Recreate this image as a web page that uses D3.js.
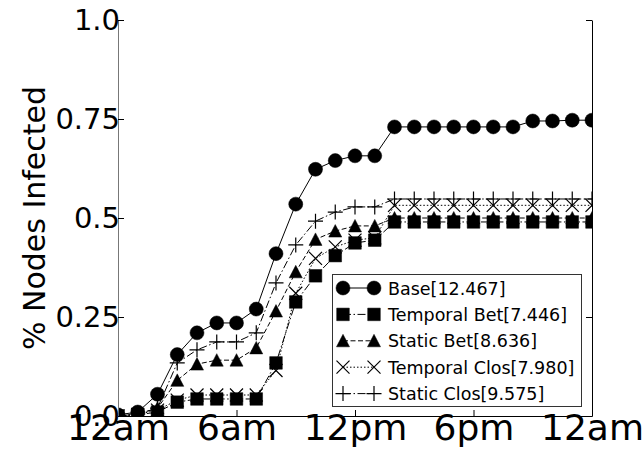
<!DOCTYPE html>
<html>
<head>
<meta charset="utf-8">
<script src="https://cdn.jsdelivr.net/npm/d3@7"></script>
<style>
  body { margin: 0; background: #fff; }
  svg { display: block; font-family: "DejaVu Sans", sans-serif; }
</style>
</head>
<body>
<svg id="chart" width="644" height="453"></svg>
<script>
// hours since midnight, one point per hour
const hours = [0, 1, 2, 3, 4, 5, 6, 7, 8, 9, 10, 11, 12, 13, 14, 15, 16, 17, 18, 19, 20, 21, 22, 23, 24];

const base = [0.003, 0.01, 0.055, 0.155, 0.21, 0.235, 0.235, 0.27, 0.41, 0.535, 0.623, 0.645, 0.657, 0.657,
  0.73, 0.73, 0.73, 0.73, 0.73, 0.73, 0.73, 0.745, 0.745, 0.747, 0.747];
const temporalBet = [0, 0.003, 0.01, 0.035, 0.043, 0.043, 0.043, 0.043, 0.134, 0.288, 0.354, 0.405, 0.437, 0.444,
  0.49, 0.49, 0.49, 0.49, 0.49, 0.49, 0.49, 0.49, 0.49, 0.49, 0.49];
const staticBet = [0, 0.005, 0.02, 0.09, 0.131, 0.141, 0.141, 0.172, 0.265, 0.364, 0.446, 0.467, 0.48, 0.48,
  0.5, 0.5, 0.5, 0.5, 0.5, 0.5, 0.5, 0.5, 0.5, 0.5, 0.5];
const temporalClos = [0, 0.004, 0.015, 0.04, 0.053, 0.053, 0.053, 0.053, 0.115, 0.31, 0.398, 0.427, 0.444, 0.45,
  0.532, 0.532, 0.532, 0.532, 0.532, 0.532, 0.532, 0.532, 0.532, 0.532, 0.532];
const staticClos = [0, 0.005, 0.02, 0.134, 0.167, 0.187, 0.187, 0.21, 0.336, 0.432, 0.492, 0.515, 0.528, 0.528,
  0.548, 0.548, 0.548, 0.548, 0.548, 0.548, 0.548, 0.548, 0.548, 0.548, 0.548];

const seriesNames = ['Base[12.467]', 'Temporal Bet[7.446]', 'Static Bet[8.636]', 'Temporal Clos[7.980]', 'Static Clos[9.575]'];

const xTicks = [0, 6, 12, 18, 24];
const xTickLabels = ['12am', '6am', '12pm', '6pm', '12am'];
const yTicks = [0, 0.25, 0.5, 0.75, 1.0];
const yTickLabels = ['0.0', '0.25', '0.5', '0.75', '1.0'];
const yTitle = '% Nodes Infected';

// marker shapes and dash styles per series
const markerPaths = {
  circle: 'M7,0A7,7 0 1,1 -7,0A7,7 0 1,1 7,0Z',
  square: 'M-6.3,-6.3H6.3V6.3H-6.3Z',
  triangle: 'M0,-6.5L6.5,6L-6.5,6Z',
  times: 'M-6.5,-6.5L6.5,6.5M-6.5,6.5L6.5,-6.5',
  plus: 'M-7.5,0H7.5M0,-7.5V7.5'
};
const styles = [
  { marker: 'circle', dash: null, filled: true },
  { marker: 'square', dash: '8,2.5,1.5,2.5', filled: true },
  { marker: 'triangle', dash: '5,2.5', filled: true },
  { marker: 'times', dash: '1.5,2', filled: false },
  { marker: 'plus', dash: '8,2.5,1.5,2.5', filled: false }
];
const series = [base, temporalBet, staticBet, temporalClos, staticClos];

const mLeft = 118, mTop = 20, mRight = 592, mBottom = 416;
const svg = d3.select('#chart');

const x = d3.scaleLinear().domain([0, 24]).range([mLeft, mRight]);
const y = d3.scaleLinear().domain([0, 1]).range([mBottom, mTop]);

svg.append('defs').append('clipPath').attr('id', 'plotclip')
  .append('rect').attr('x', mLeft).attr('y', mTop).attr('width', mRight - mLeft).attr('height', mBottom - mTop);

const plot = svg.append('g').attr('clip-path', 'url(#plotclip)');

const line = d3.line().x((d, i) => x(hours[i])).y(d => y(d));

series.forEach((vals, si) => {
  const st = styles[si];
  plot.append('path')
    .attr('d', line(vals))
    .attr('fill', 'none')
    .attr('stroke', '#000')
    .attr('stroke-width', 1)
    .attr('stroke-dasharray', st.dash);
  plot.selectAll(null).data(vals).join('path')
    .attr('transform', (d, i) => `translate(${x(hours[i])},${y(d)})`)
    .attr('d', markerPaths[st.marker])
    .attr('fill', st.filled ? '#000' : 'none')
    .attr('stroke', '#000')
    .attr('stroke-width', st.filled ? 0.5 : 1.2);
});

// axes, ticks pointing inward
const xAxis = d3.axisBottom(x).tickValues(xTicks)
  .tickFormat((d, i) => xTickLabels[i]).tickSizeInner(-6).tickSizeOuter(0).tickPadding(-2);
const gx = svg.append('g').attr('transform', `translate(0,${mBottom})`).call(xAxis);
gx.select('.domain').attr('stroke', '#000');
gx.selectAll('text').attr('font-size', 36).attr('fill', '#000').attr('font-family', 'DejaVu Sans');

const yAxis = d3.axisLeft(y).tickValues(yTicks)
  .tickFormat((d, i) => yTickLabels[i]).tickSizeInner(-6).tickSizeOuter(0).tickPadding(-2);
const gy = svg.append('g').attr('transform', `translate(${mLeft},0)`).call(yAxis);
gy.select('.domain').attr('stroke', '#777');
gy.selectAll('text').attr('font-size', 29).attr('fill', '#000').attr('font-family', 'DejaVu Sans');

// mirrored ticks on the right spine
const yRight = d3.axisRight(y).tickValues(yTicks).tickFormat('').tickSizeInner(-6).tickSizeOuter(0);
const gyr = svg.append('g').attr('transform', `translate(${mRight},0)`).call(yRight);
gyr.select('.domain').attr('stroke', '#000');

svg.append('text')
  .attr('transform', `translate(45,${(mTop + mBottom) / 2}) rotate(-90)`)
  .attr('text-anchor', 'middle')
  .attr('font-size', 30)
  .text(yTitle);

// legend
const lg = svg.append('g');
lg.append('rect').attr('x', 332.5).attr('y', 274.5).attr('width', 249).attr('height', 132)
  .attr('fill', '#fff').attr('stroke', '#333').attr('stroke-width', 1);
seriesNames.forEach((name, si) => {
  const st = styles[si];
  const cy = 288 + si * 26.4;
  lg.append('line').attr('x1', 343).attr('x2', 374).attr('y1', cy).attr('y2', cy)
    .attr('stroke', '#000').attr('stroke-dasharray', st.dash);
  [343, 374].forEach(mx => {
    lg.append('path').attr('transform', `translate(${mx},${cy})`)
      .attr('d', markerPaths[st.marker])
      .attr('fill', st.filled ? '#000' : 'none')
      .attr('stroke', '#000').attr('stroke-width', st.filled ? 0.5 : 1.2);
  });
  lg.append('text').attr('x', 388).attr('y', cy + 6.5).attr('font-size', 17.5).text(name);
});
</script>
</body>
</html>
